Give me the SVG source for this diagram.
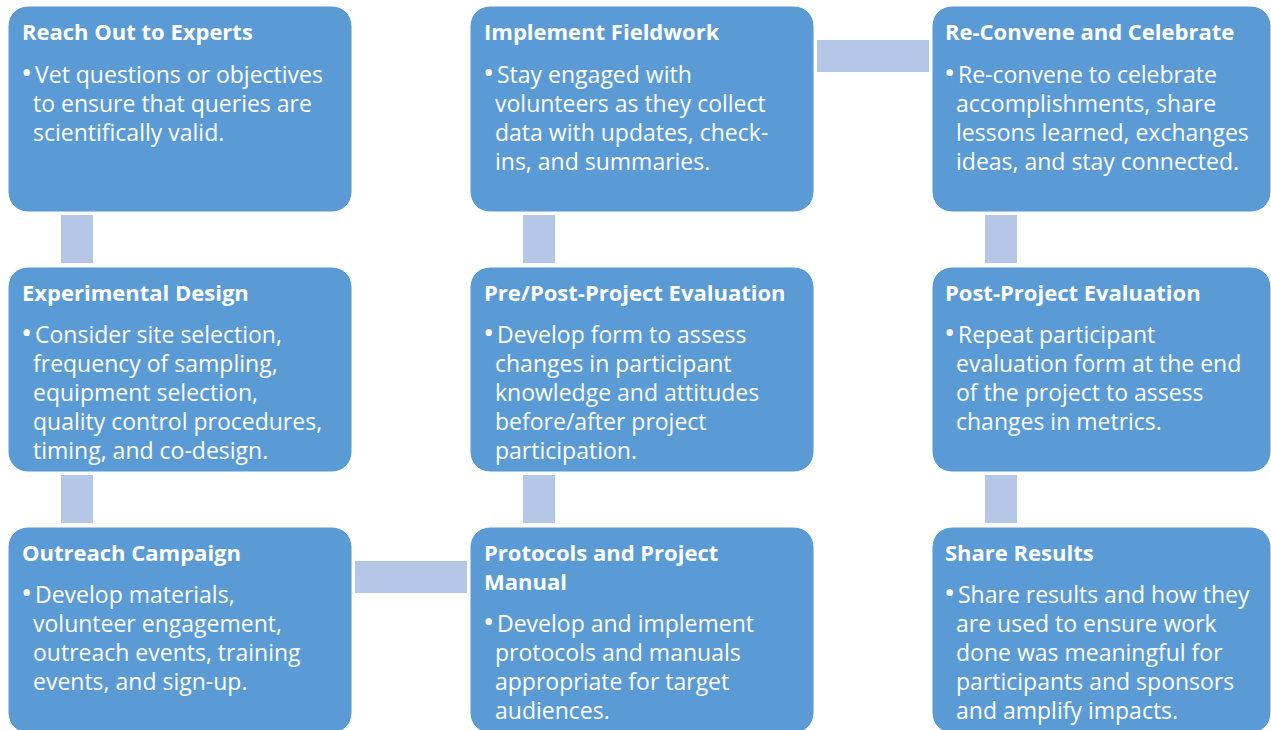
<svg xmlns="http://www.w3.org/2000/svg" width="1271" height="730" viewBox="0 0 1271 730">
<style>
.box{fill:#5B9BD5;stroke:#ffffff;stroke-width:1}
.con{fill:#B4C7E7}
.t{font-family:"Open Sans","Liberation Sans",Arial,sans-serif;font-weight:bold;font-size:22px;fill:#ffffff}
.b{font-family:"Open Sans","Liberation Sans",Arial,sans-serif;font-size:23px;fill:#ffffff}
.d{font-size:30px}
</style>
<rect width="1271" height="730" fill="#ffffff"/>
<g id="connectors">
<rect class="con" x="61" y="215" width="32" height="48"/>
<rect class="con" x="61" y="475" width="32" height="48"/>
<rect class="con" x="523" y="215" width="32" height="48"/>
<rect class="con" x="523" y="475" width="32" height="48"/>
<rect class="con" x="985" y="215" width="32" height="48"/>
<rect class="con" x="985" y="475" width="32" height="48"/>
<rect class="con" x="817" y="40" width="112" height="32"/>
<rect class="con" x="355" y="561" width="112" height="32"/>
</g>
<g id="reach-out">
<rect class="box" x="8" y="6" width="344" height="206" rx="20"/>
<text class="t" x="22" y="40">Reach Out to Experts</text>
<text class="b" y="83"><tspan class="d" x="21">•</tspan><tspan x="35">Vet questions or objectives</tspan></text>
<text class="b" x="33" y="112">to ensure that queries are</text>
<text class="b" x="33" y="141">scientifically valid.</text>
</g>
<g id="experimental-design">
<rect class="box" x="8" y="267" width="344" height="205" rx="20"/>
<text class="t" x="22" y="301">Experimental Design</text>
<text class="b" y="343"><tspan class="d" x="21">•</tspan><tspan x="35">Consider site selection,</tspan></text>
<text class="b" x="33" y="372">frequency of sampling,</text>
<text class="b" x="33" y="401">equipment selection,</text>
<text class="b" x="33" y="430">quality control procedures,</text>
<text class="b" x="33" y="459">timing, and co-design.</text>
</g>
<g id="outreach-campaign">
<rect class="box" x="8" y="527" width="344" height="206" rx="20"/>
<text class="t" x="22" y="561">Outreach Campaign</text>
<text class="b" y="603"><tspan class="d" x="21">•</tspan><tspan x="35">Develop materials,</tspan></text>
<text class="b" x="33" y="632">volunteer engagement,</text>
<text class="b" x="33" y="661">outreach events, training</text>
<text class="b" x="33" y="690">events, and sign-up.</text>
</g>
<g id="implement-fieldwork">
<rect class="box" x="470" y="6" width="344" height="206" rx="20"/>
<text class="t" x="484" y="40">Implement Fieldwork</text>
<text class="b" y="83"><tspan class="d" x="483">•</tspan><tspan x="497">Stay engaged with</tspan></text>
<text class="b" x="495" y="112">volunteers as they collect</text>
<text class="b" x="495" y="141">data with updates, check-</text>
<text class="b" x="495" y="170">ins, and summaries.</text>
</g>
<g id="pre-post-evaluation">
<rect class="box" x="470" y="267" width="344" height="205" rx="20"/>
<text class="t" x="484" y="301">Pre/Post-Project Evaluation</text>
<text class="b" y="343"><tspan class="d" x="483">•</tspan><tspan x="497">Develop form to assess</tspan></text>
<text class="b" x="495" y="372">changes in participant</text>
<text class="b" x="495" y="401">knowledge and attitudes</text>
<text class="b" x="495" y="430">before/after project</text>
<text class="b" x="495" y="459">participation.</text>
</g>
<g id="protocols-manual">
<rect class="box" x="470" y="527" width="344" height="206" rx="20"/>
<text class="t" x="484" y="561">Protocols and Project</text>
<text class="t" x="484" y="590">Manual</text>
<text class="b" y="632"><tspan class="d" x="483">•</tspan><tspan x="497">Develop and implement</tspan></text>
<text class="b" x="495" y="661">protocols and manuals</text>
<text class="b" x="495" y="690">appropriate for target</text>
<text class="b" x="495" y="719">audiences.</text>
</g>
<g id="reconvene-celebrate">
<rect class="box" x="932" y="6" width="339" height="206" rx="20"/>
<text class="t" x="945" y="40">Re-Convene and Celebrate</text>
<text class="b" y="83"><tspan class="d" x="944">•</tspan><tspan x="958">Re-convene to celebrate</tspan></text>
<text class="b" x="956" y="112">accomplishments, share</text>
<text class="b" x="956" y="141">lessons learned, exchanges</text>
<text class="b" x="956" y="170">ideas, and stay connected.</text>
</g>
<g id="post-project-evaluation">
<rect class="box" x="932" y="267" width="339" height="205" rx="20"/>
<text class="t" x="945" y="301">Post-Project Evaluation</text>
<text class="b" y="343"><tspan class="d" x="944">•</tspan><tspan x="958">Repeat participant</tspan></text>
<text class="b" x="956" y="372">evaluation form at the end</text>
<text class="b" x="956" y="401">of the project to assess</text>
<text class="b" x="956" y="430">changes in metrics.</text>
</g>
<g id="share-results">
<rect class="box" x="932" y="527" width="339" height="206" rx="20"/>
<text class="t" x="945" y="561">Share Results</text>
<text class="b" y="603"><tspan class="d" x="944">•</tspan><tspan x="958">Share results and how they</tspan></text>
<text class="b" x="956" y="632">are used to ensure work</text>
<text class="b" x="956" y="661">done was meaningful for</text>
<text class="b" x="956" y="690">participants and sponsors</text>
<text class="b" x="956" y="719">and amplify impacts.</text>
</g>
</svg>
